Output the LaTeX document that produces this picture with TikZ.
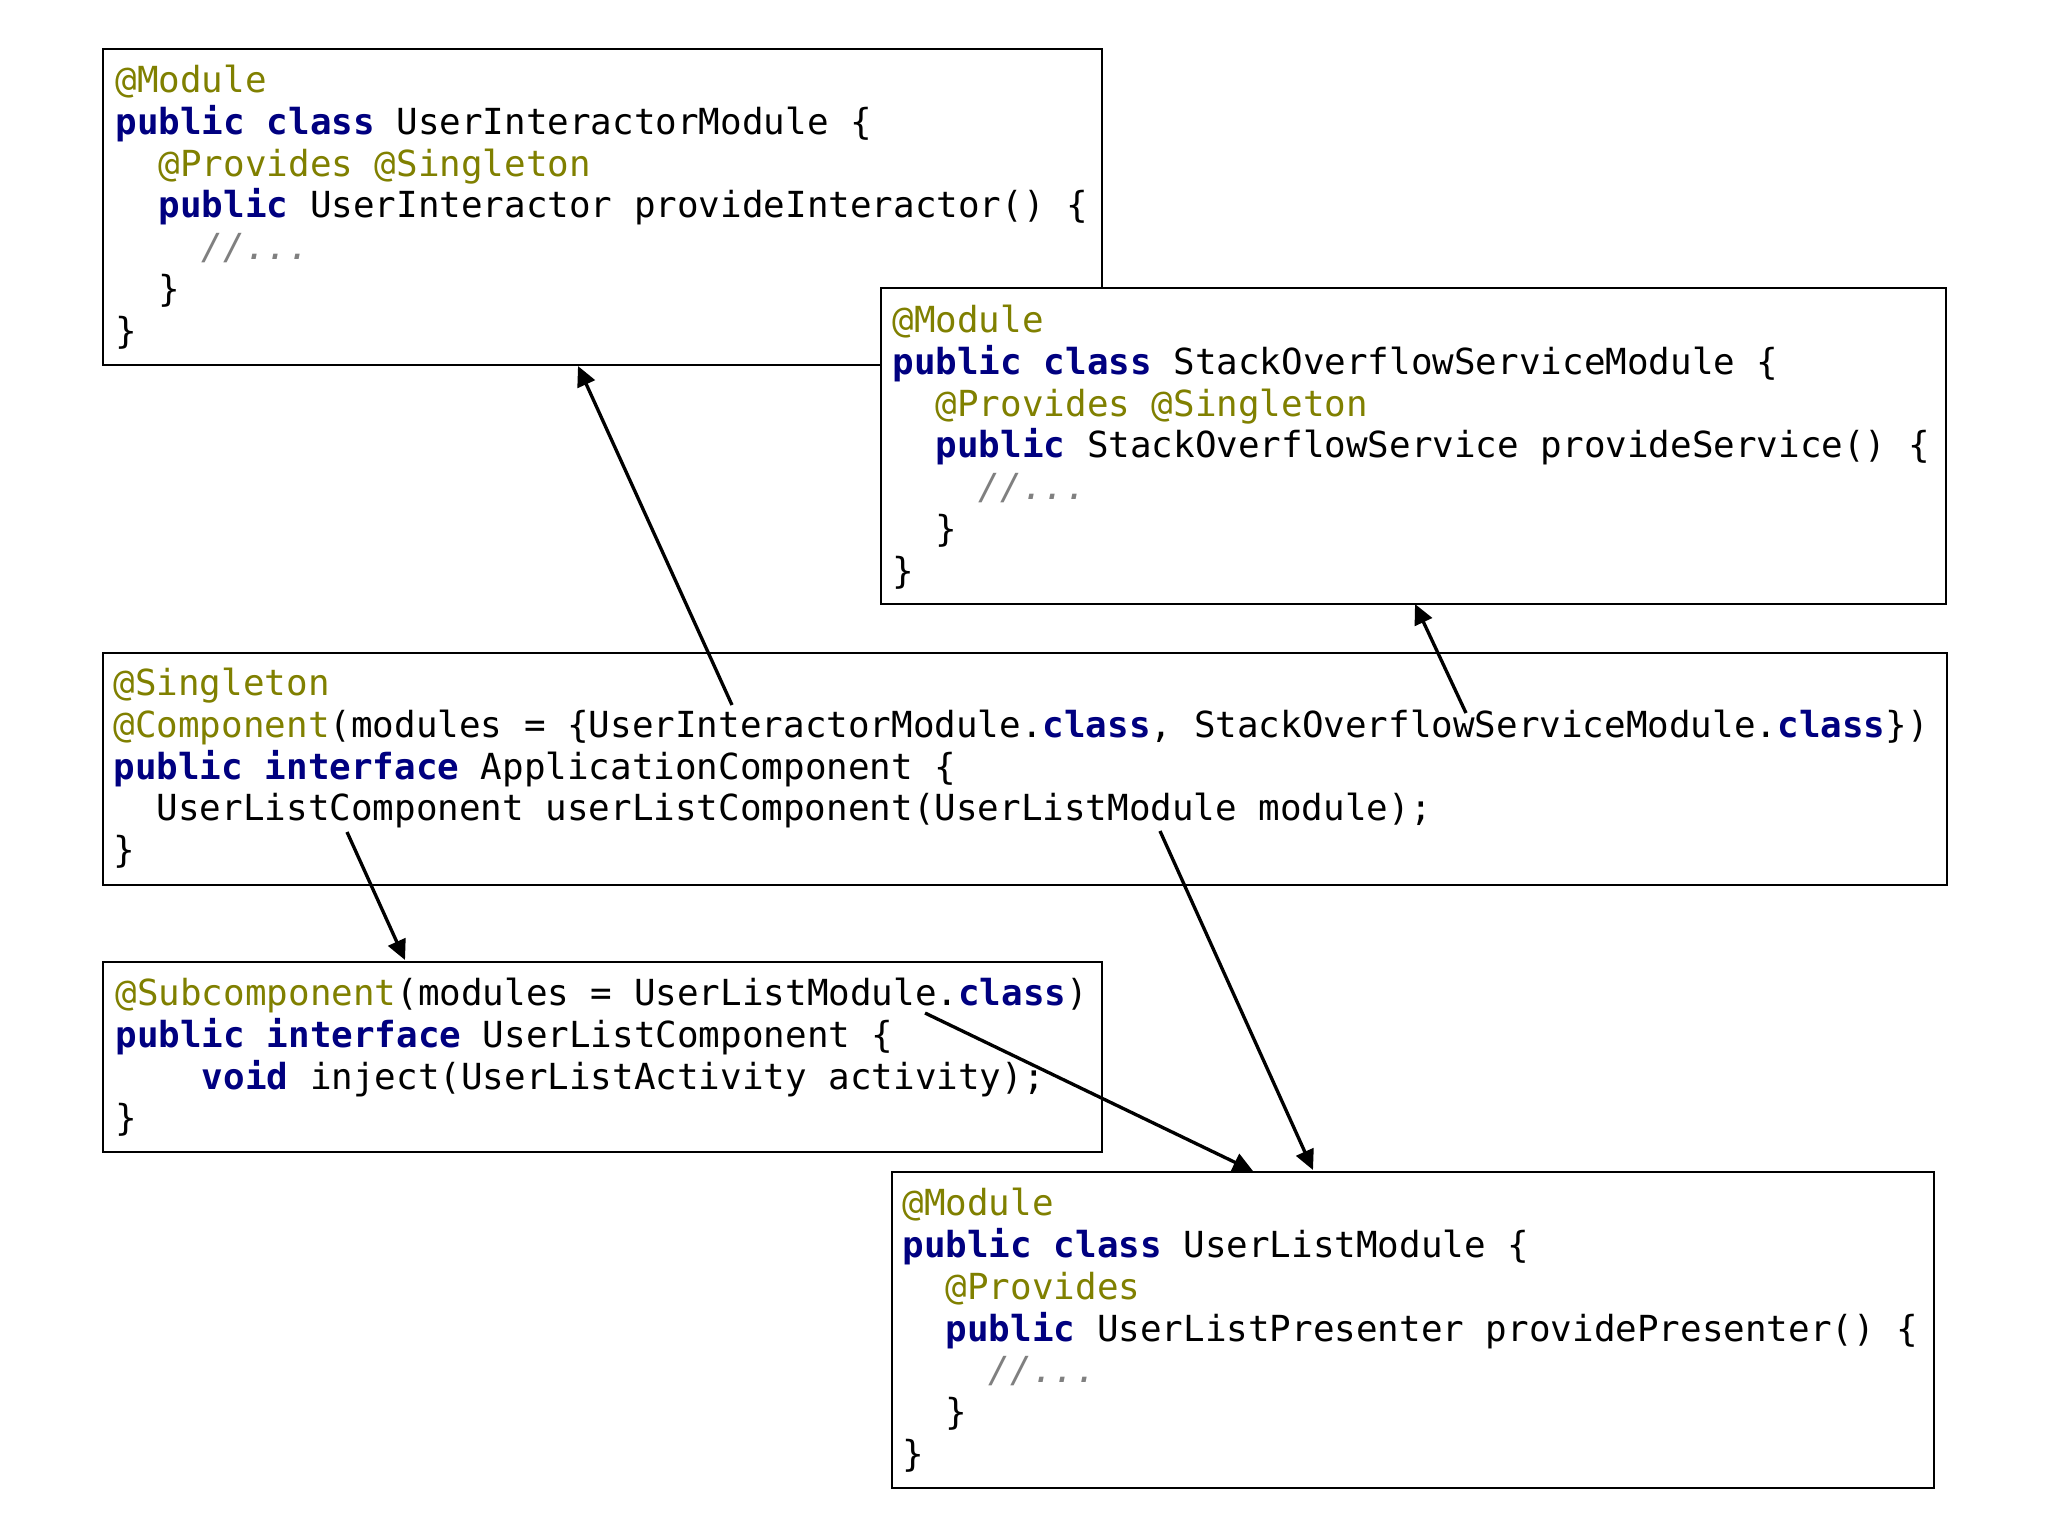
\documentclass[tikz,border=0pt]{standalone}
\usepackage{fontspec}
\setmonofont{DejaVu Sans Mono}
\usetikzlibrary{arrows.meta}
\definecolor{annot}{HTML}{808000}
\definecolor{kwd}{HTML}{000080}
\definecolor{cmt}{HTML}{808080}
\newcommand\codefont{\ttfamily\fontsize{13.46}{15.68}\selectfont}
\newcommand\an[1]{\textcolor{annot}{#1}}
\newcommand\kw[1]{\textcolor{kwd}{\bfseries #1}}
\newcommand\cm[1]{\textcolor{cmt}{\itshape #1}}
\newcommand\ind[1]{\hphantom{#1}}
\newcommand\fl{\rule{0pt}{12pt}}
\begin{document}
\begin{tikzpicture}[x=0.375pt,y=-0.375pt,
  box/.style={draw=black, line width=0.9pt, fill=white, inner sep=0pt, anchor=north west},
  code/.style={anchor=north west, inner sep=0pt, align=left, font=\codefont},
  arr/.style={draw=black, line width=1.25pt, -{Triangle[length=7.5pt,width=7pt]}}]
\fill[white] (0,0) rectangle (2048,1536);
\useasboundingbox (0,0) rectangle (2048,1536);
% box 1
\node[box, minimum width=374.63pt, minimum height=118.5pt] (b1) at (102,48) {};
\node[code] (t1) at (115,60) {\fl\an{@Module}\\
\kw{public class} UserInteractorModule \{\\
\ind{xx}\an{@Provides @Singleton}\\
\ind{xx}\kw{public} UserInteractor provideInteractor() \{\\
\ind{xxxx}\cm{//...}\\
\ind{xx}\}\\
\}};
% box 2
\node[box, minimum width=399.38pt, minimum height=118.5pt] (b2) at (880,287) {};
\node[code] (t2) at (892,300) {\fl\an{@Module}\\
\kw{public class} StackOverflowServiceModule \{\\
\ind{xx}\an{@Provides @Singleton}\\
\ind{xx}\kw{public} StackOverflowService provideService() \{\\
\ind{xxxx}\cm{//...}\\
\ind{xx}\}\\
\}};
% box 3
\node[box, minimum width=691.5pt, minimum height=87pt] (b3) at (102,652) {};
\node[code] (t3) at (113,663) {\fl\an{@Singleton}\\
\an{@Component}(modules = \{UserInteractorModule.\kw{class}, StackOverflowServiceModule.\kw{class}\})\\
\kw{public interface} ApplicationComponent \{\\
\ind{xx}UserListComponent userListComponent(UserListModule module);\\
\}};
% box 4
\node[box, minimum width=374.63pt, minimum height=71.25pt] (b4) at (102,961) {};
\node[code] (t4) at (115,973) {\fl\an{@Subcomponent}(modules = UserListModule.\kw{class})\\
\kw{public interface} UserListComponent \{\\
\ind{xxxx}\kw{void} inject(UserListActivity activity);\\
\}};
% box 5
\node[box, minimum width=390.75pt, minimum height=118.5pt] (b5) at (891,1171) {};
\node[code] (t5) at (902,1183) {\fl\an{@Module}\\
\kw{public class} UserListModule \{\\
\ind{xx}\an{@Provides}\\
\ind{xx}\kw{public} UserListPresenter providePresenter() \{\\
\ind{xxxx}\cm{//...}\\
\ind{xx}\}\\
\}};
% arrows
\coordinate (s1) at (732,705);  \coordinate (e1) at (578,366);
\coordinate (s2) at (1466,713); \coordinate (e2) at (1415,604);
\coordinate (s3) at (347,832);  \coordinate (e3) at (405,960);
\coordinate (s4) at (1160,831); \coordinate (e4) at (1313,1170);
\coordinate (s5) at (925,1013); \coordinate (e5) at (1253,1171);
\draw[arr] (s1) -- (e1);
\draw[arr] (s2) -- (e2);
\draw[arr] (s3) -- (e3);
\draw[arr] (s4) -- (e4);
\draw[arr] (s5) -- (e5);
\end{tikzpicture}
\end{document}
